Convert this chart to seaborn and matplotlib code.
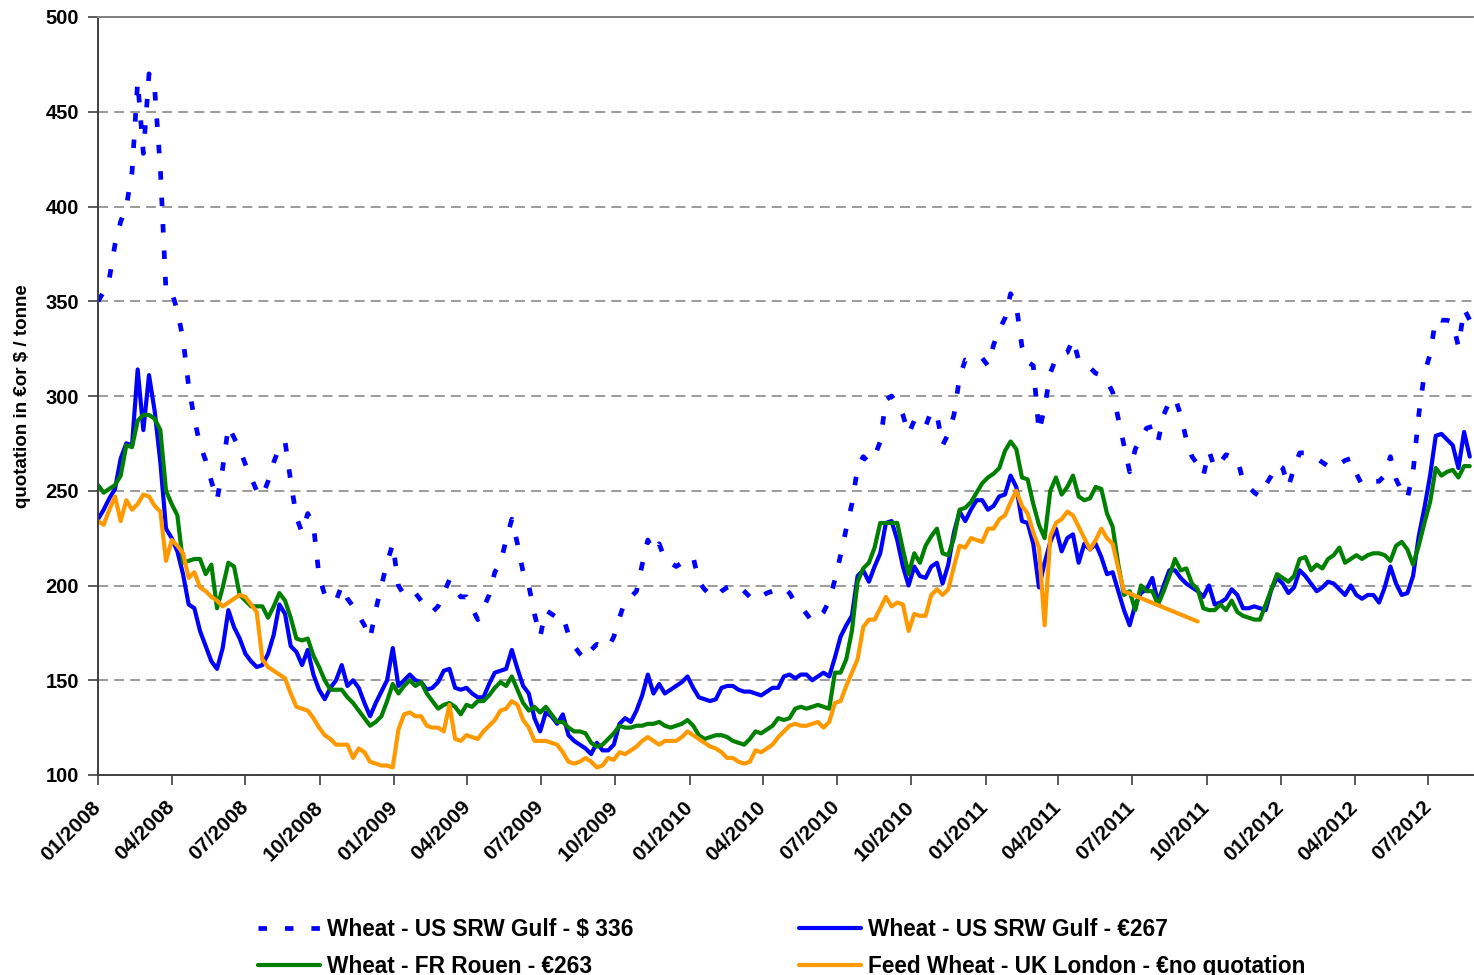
import pandas as pd
import matplotlib.pyplot as plt
import matplotlib.transforms as mtransforms
import seaborn as sns

sns.set_style("white")
plt.rcParams['font.family'] = ['Liberation Sans', 'DejaVu Sans']
plt.rcParams['font.weight'] = 'bold'
plt.rcParams['text.color'] = 'black'
plt.rcParams['xtick.color'] = 'black'
plt.rcParams['ytick.color'] = 'black'
plt.rcParams['axes.labelcolor'] = 'black'

# weekly quotations, first week of 01/2008 to late 08/2012
dates = pd.date_range("2008-01-01", periods=243, freq="7D")

us_srw_usd = [
    350, 355, 362, 380, 392, 400, 418, 466, 428, 470,
    462, 420, 355, 355, 345, 330, 305, 288, 274, 266,
    255, 245, 262, 284, 278, 272, 264, 257, 250, 247,
    255, 265, 273, 276, 255, 236, 228, 238, 232, 205,
    195, 192, 192, 200, 193, 189, 184, 179, 172, 187,
    200, 212, 222, 200, 195, 197, 196, 192, 188, 186,
    189, 196, 203, 198, 194, 194, 188, 182, 188, 195,
    207, 212, 224, 235, 222, 207, 200, 185, 173, 187,
    185, 183, 184, 174, 168, 164, 161, 166, 169, 168,
    167, 173, 183, 192, 194, 197, 211, 224, 218, 222,
    214, 212, 210, 212, 214, 215, 202, 198, 195, 194,
    197, 199, 200, 200, 197, 194, 192, 194, 196, 197,
    198, 199, 196, 191, 189, 185, 181, 183, 186, 192,
    203, 216, 230, 243, 262, 268, 265, 268, 276, 298,
    300, 296, 290, 280, 287, 288, 284, 292, 290, 274,
    280, 290, 310, 319, 318, 319, 320, 316, 327, 335,
    341, 354, 348, 326, 318, 316, 281, 294, 312, 320,
    322, 323, 330, 319, 318, 315, 312, 311, 308, 302,
    288, 274, 260, 272, 278, 283, 284, 276, 290, 297,
    299, 290, 277, 268, 264, 258, 271, 262, 265, 269,
    268, 267, 255, 252, 249, 247, 253, 258, 264, 262,
    252, 262, 270, 270, 268, 267, 265, 263, 262, 264,
    266, 267, 259, 253, 254, 255, 255, 258, 268, 256,
    250, 246, 260, 290, 312, 322, 341, 340, 340, 339,
    326, 346, 340,
]

us_srw_eur = [
    235, 240, 246, 251, 267, 275, 274, 314, 282, 311,
    292, 265, 230, 225, 218, 206, 190, 188, 176, 168,
    160, 156, 167, 187, 178, 172, 164, 160, 157, 158,
    164, 174, 190, 185, 168, 165, 158, 166, 153, 145,
    140, 146, 150, 158, 147, 150, 146, 138, 131, 138,
    144, 150, 167, 147, 150, 153, 150, 149, 145, 146,
    149, 155, 156, 146, 145, 146, 143, 141, 141, 148,
    154, 155, 156, 166, 156, 147, 143, 130, 123, 133,
    131, 127, 132, 121, 118, 116, 114, 111, 117, 113,
    113, 116, 127, 130, 128, 134, 142, 153, 143, 148,
    143, 145, 147, 149, 152, 146, 141, 140, 139, 140,
    146, 147, 147, 145, 144, 144, 143, 142, 144, 146,
    146, 152, 153, 151, 153, 153, 150, 152, 154, 152,
    162, 173, 179, 184, 205, 208, 202, 210, 217, 233,
    234, 224, 210, 200, 210, 205, 204, 210, 212, 201,
    211, 228, 239, 234, 240, 245, 245, 240, 242, 247,
    248, 258, 252, 234, 233, 222, 199, 212, 223, 230,
    218, 225, 227, 212, 222, 219, 222, 215, 206, 207,
    197, 187, 179, 190, 196, 198, 204, 191, 200, 208,
    208, 204, 201, 199, 197, 194, 200, 190, 191, 193,
    198, 195, 188, 188, 189, 188, 187, 198, 204, 201,
    196, 199, 208, 205, 201, 197, 199, 202, 201, 198,
    195, 200, 195, 193, 195, 195, 191, 199, 210, 201,
    195, 196, 205, 226, 241, 258, 279, 280, 277, 274,
    262, 281, 268,
]

fr_rouen = [
    253, 249, 251, 253, 258, 274, 273, 287, 290, 290,
    288, 282, 250, 243, 237, 212, 213, 214, 214, 206,
    211, 188, 199, 212, 210, 195, 192, 189, 189, 189,
    183, 189, 196, 192, 183, 172, 171, 172, 163, 157,
    150, 145, 145, 145, 141, 138, 134, 130, 126, 128,
    131, 139, 148, 143, 147, 150, 147, 149, 143, 139,
    135, 137, 138, 136, 132, 137, 136, 139, 139, 142,
    146, 149, 147, 152, 145, 138, 134, 136, 133, 136,
    132, 128, 128, 125, 123, 123, 122, 117, 115, 116,
    119, 122, 126, 125, 125, 126, 126, 127, 127, 128,
    126, 125, 126, 127, 129, 126, 121, 119, 120, 121,
    121, 120, 118, 117, 116, 119, 123, 122, 124, 126,
    130, 129, 130, 135, 136, 135, 136, 137, 136, 135,
    154, 154, 161, 176, 202, 209, 212, 220, 233, 233,
    233, 233, 219, 206, 217, 212, 221, 226, 230, 217,
    216, 225, 240, 241, 244, 249, 254, 257, 259, 262,
    271, 276, 272, 257, 256, 243, 232, 225, 250, 257,
    248, 252, 258, 247, 245, 246, 252, 251, 238, 231,
    211, 195, 197, 187, 200, 197, 197, 190, 197, 205,
    214, 208, 209, 201, 198, 188, 187, 187, 190, 187,
    192, 186, 184, 183, 182, 182, 190, 198, 206, 204,
    202, 205, 214, 215, 208, 211, 209, 214, 216, 220,
    212, 214, 216, 214, 216, 217, 217, 216, 213, 221,
    223, 219, 211, 221, 233, 244, 262, 258, 260, 261,
    257, 263, 263,
]

nan = float("nan")
uk_london = [
    234, 232, 240, 247, 234, 245, 240, 243, 248, 247,
    242, 239, 213, 224, 221, 217, 204, 207, 199, 197,
    194, 192, 189, 191, 193, 195, 194, 190, 186, 161,
    157, 155, 153, 151, 143, 136, 135, 134, 130, 125,
    121, 119, 116, 116, 116, 109, 114, 112, 107, 106,
    105, 105, 104, 124, 132, 133, 131, 131, 126, 125,
    125, 123, 137, 119, 118, 121, 120, 119, 123, 126,
    129, 134, 135, 139, 137, 129, 125, 118, 118, 118,
    117, 116, 112, 107, 106, 107, 109, 107, 104, 105,
    109, 108, 112, 111, 113, 115, 118, 120, 118, 116,
    118, 118, 118, 120, 123, 121, 119, 117, 115, 114,
    112, 109, 109, 107, 106, 107, 113, 112, 114, 116,
    120, 123, 126, 127, 126, 126, 127, 128, 125, 128,
    138, 139, 147, 154, 161, 178, 182, 182, 188, 194,
    189, 191, 190, 176, 185, 184, 184, 195, 198, 195,
    198, 210, 221, 220, 225, 224, 223, 230, 230, 235,
    237, 244, 250, 242, 238, 228, 220, 179, 226, 233,
    235, 239, 237, 231, 225, 219, 224, 230, 225, 222,
    209, 197,
] + [nan] * 12 + [181] + [nan] * 48

labels = [
    "Wheat - US SRW Gulf - $ 336",
    "Wheat - US SRW Gulf - \u20ac267",
    "Wheat - FR Rouen - \u20ac263",
    "Feed Wheat - UK London - \u20acno quotation",
]
colors = ["#0000FF", "#0000FF", "#008000", "#FF9900"]

df = pd.DataFrame({"date": dates, labels[0]: us_srw_usd, labels[1]: us_srw_eur,
                   labels[2]: fr_rouen, labels[3]: uk_london})

W, H = 1474, 975
fig = plt.figure(figsize=(W / 100, H / 100), dpi=100)
ax = fig.add_axes([98 / W, 1 - 775 / H, (1473 - 98) / W, (775 - 17) / H])

for i, name in enumerate(labels):
    d = df[["date", name]].dropna()
    if i == 0:
        sns.lineplot(data=d, x="date", y=name, ax=ax, color=colors[i], lw=3.4,
                     linestyle=(0, (1.8, 3.8)), dash_capstyle="butt")
    else:
        sns.lineplot(data=d, x="date", y=name, ax=ax, color=colors[i], lw=3,
                     solid_joinstyle="round")

ax.set_ylim(100, 500)
ax.set_yticks(range(100, 501, 50))
ticks = pd.date_range("2008-01-01", "2012-07-01", freq="QS")
ax.set_xlim(pd.Timestamp("2008-01-01"), pd.Timestamp("2012-08-25"))
ax.set_xticks(ticks)
ax.set_xticklabels([t.strftime("%m/%Y") for t in ticks], rotation=45,
                   ha="right", va="center", rotation_mode="anchor", fontsize=15)
shift = mtransforms.ScaledTranslation(-12 / 100, 0, fig.dpi_scale_trans)
for lab in ax.get_xticklabels():
    lab.set_transform(lab.get_transform() + shift)
ax.set_xlabel("")
ax.set_ylabel("quotation in \u20acor $ / tonne", fontsize=13.5, fontweight="bold")
ax.yaxis.set_label_coords(-0.049, 0.5)

ax.yaxis.grid(True, linestyle=(0, (6.5, 4)), color="#808080", lw=1.1)
ax.xaxis.grid(False)
for s in ["left", "bottom"]:
    ax.spines[s].set_color("#404040")
    ax.spines[s].set_linewidth(1.4)
ax.spines["top"].set_color("#808080")
ax.spines["top"].set_linewidth(1.4)
ax.spines["right"].set_visible(False)
ax.tick_params(axis="both", direction="out", length=7, width=1.2, color="#404040",
               bottom=True, left=True)
ax.tick_params(axis="y", pad=6.5, labelsize=14.5)
ax.tick_params(axis="x", pad=14)

lines = ax.get_lines()
handles = [lines[0], lines[2], lines[1], lines[3]]
names = [labels[0], labels[2], labels[1], labels[3]]
fig.legend(handles, names, ncol=2, loc="upper left",
           bbox_to_anchor=(258 / W, 1 - 918 / H), frameon=False, fontsize=16.3,
           handlelength=2.75, handletextpad=0.3, columnspacing=7.3,
           labelspacing=0.6, borderpad=0, borderaxespad=0)

plt.savefig("out.png", dpi=100)
plt.close()
